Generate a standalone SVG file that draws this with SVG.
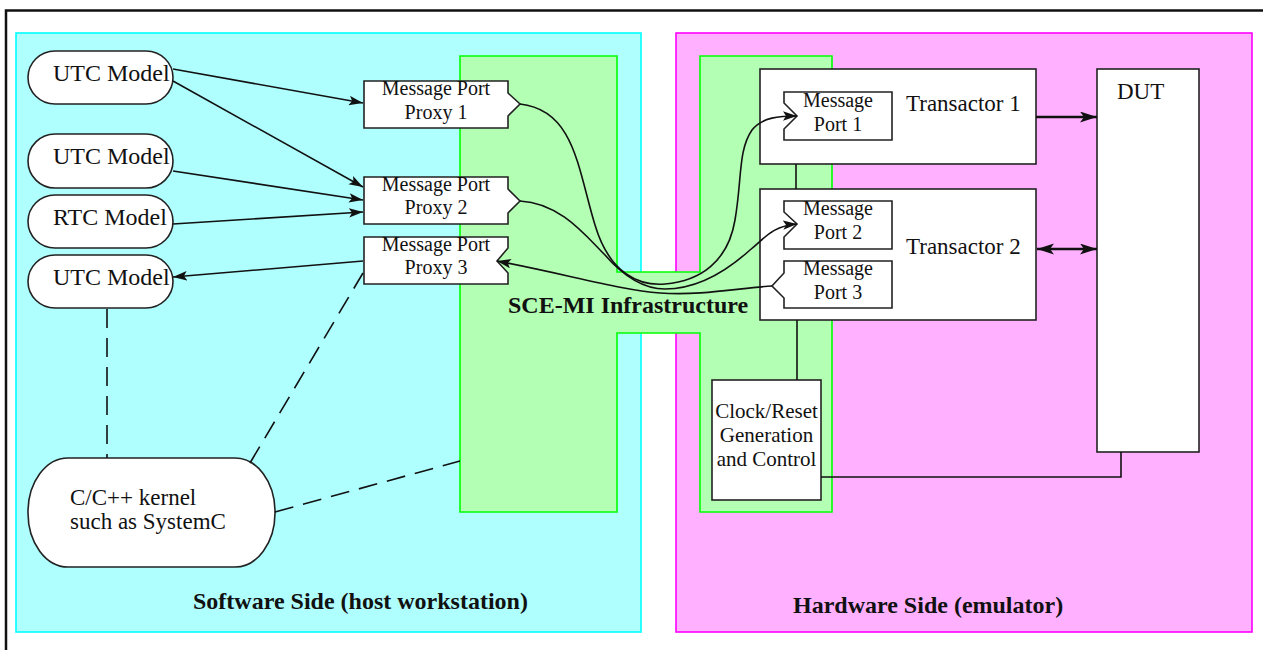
<svg xmlns="http://www.w3.org/2000/svg" width="1263" height="650" viewBox="0 0 1263 650">
<style>
.t{font-family:"Liberation Serif","Times New Roman",serif;fill:#111}
.m{font-size:20px;text-anchor:middle}
.b{font-size:24px;font-weight:bold}
.box{fill:#fff;stroke:#222;stroke-width:1.6}
.ln{fill:none;stroke:#111;stroke-width:1.6}
.dash{fill:none;stroke:#111;stroke-width:1.6;stroke-dasharray:19 10}
</style>
<defs>
<marker id="a" markerUnits="userSpaceOnUse" markerWidth="15" markerHeight="10" refX="14" refY="4.75" orient="auto-start-reverse"><path d="M0,0 L14,4.75 L0,9.5 L3,4.75 z" fill="#111"/></marker>
<marker id="aT" markerUnits="userSpaceOnUse" markerWidth="18" markerHeight="12" refX="17" refY="5.5" orient="auto-start-reverse"><path d="M0,0 L17,5.5 L0,11 L4,5.5 z" fill="#111"/></marker>
</defs>
<rect x="6" y="10.5" width="1300" height="700" fill="#fff" stroke="#111" stroke-width="2.5"/>
<g id="software-side">
<rect x="16" y="33" width="625" height="599" fill="#b0ffff" stroke="#00ffff" stroke-width="1.6"/>
<text class="t b" x="193" y="609">Software Side (host workstation)</text>
</g>
<g id="hardware-side">
<rect x="676" y="33" width="576" height="599" fill="#ffb0ff" stroke="#ff00ff" stroke-width="1.6"/>
<text class="t b" x="793" y="613">Hardware Side (emulator)</text>
</g>
<g id="sce-mi">
<polygon points="460,56 617,56 617,272 700,272 700,56 832,56 832,512 700,512 700,333 617,333 617,512 460,512" fill="#b3ffb3" stroke="#00ff00" stroke-width="1.6"/>
<text class="t b" x="508" y="313">SCE-MI Infrastructure</text>
</g>
<g id="utc1"><rect class="box" x="28" y="51" width="145" height="53" rx="27"/><text class="t" x="53" y="81" font-size="24">UTC Model</text></g>
<g id="utc2"><rect class="box" x="28" y="134" width="145" height="54" rx="27"/><text class="t" x="53" y="164" font-size="24">UTC Model</text></g>
<g id="rtc"><rect class="box" x="28" y="195" width="145" height="53" rx="27"/><text class="t" x="53" y="225" font-size="24">RTC Model</text></g>
<g id="utc3"><rect class="box" x="28" y="255" width="145" height="53" rx="27"/><text class="t" x="53" y="285" font-size="24">UTC Model</text></g>
<g id="kernel"><rect class="box" x="28" y="458" width="247" height="109" rx="40" ry="54"/><text class="t" font-size="23"><tspan x="70" y="505">C/C++ kernel</tspan><tspan x="70" y="529">such as SystemC</tspan></text></g>
<g id="proxy1"><polygon class="box" points="364,81 508,81 508,93 520,104 508,116 508,128 364,128"/><text class="t m"><tspan x="436" y="95">Message Port</tspan><tspan x="436" y="119">Proxy 1</tspan></text></g>
<g id="proxy2"><polygon class="box" points="364,177 508,177 508,189 520,201 508,213 508,224 364,224"/><text class="t m"><tspan x="436" y="191">Message Port</tspan><tspan x="436" y="214">Proxy 2</tspan></text></g>
<g id="proxy3"><polygon class="box" points="364,237 508,237 508,248 497,261 508,273 508,284 364,284"/><text class="t m"><tspan x="436" y="251">Message Port</tspan><tspan x="436" y="274">Proxy 3</tspan></text></g>
<g id="transactor1"><rect class="box" x="760" y="69" width="276" height="95"/><text class="t" x="906" y="111" font-size="23">Transactor 1</text></g>
<g id="transactor2"><rect class="box" x="760" y="189" width="276" height="131"/><text class="t" x="906" y="254" font-size="23">Transactor 2</text></g>
<g id="port1"><polygon class="box" points="784,92 892,92 892,140 784,140 784,129 797,116 784,103"/><text class="t m"><tspan x="838" y="107">Message</tspan><tspan x="838" y="131">Port 1</tspan></text></g>
<g id="port2"><polygon class="box" points="784,201 892,201 892,249 784,249 784,237 797,224 784,212"/><text class="t m"><tspan x="838" y="215">Message</tspan><tspan x="838" y="239">Port 2</tspan></text></g>
<g id="port3"><polygon class="box" points="784,261 892,261 892,308 784,308 784,298 772,286 784,273"/><text class="t m"><tspan x="838" y="275">Message</tspan><tspan x="838" y="299">Port 3</tspan></text></g>
<g id="dut"><rect class="box" x="1097" y="69" width="102" height="383"/><text class="t" x="1117" y="99" font-size="23">DUT</text></g>
<g id="clock"><rect class="box" x="712" y="380" width="109" height="120"/><text class="t" font-size="21" text-anchor="middle"><tspan x="766.5" y="418">Clock/Reset</tspan><tspan x="766.5" y="442">Generation</tspan><tspan x="766.5" y="466">and Control</tspan></text></g>
<g id="connectors">
<line class="ln" x1="173" y1="69" x2="363" y2="103" marker-end="url(#a)"/>
<line class="ln" x1="173" y1="81" x2="363" y2="187" marker-end="url(#a)"/>
<line class="ln" x1="173" y1="171" x2="363" y2="200" marker-end="url(#a)"/>
<line class="ln" x1="173" y1="224" x2="363" y2="212" marker-end="url(#a)"/>
<line class="ln" x1="363" y1="261" x2="173" y2="277" marker-end="url(#a)"/>
<path class="dash" d="M107,309 V458"/>
<path class="dash" d="M250,463 L363,273"/>
<path class="dash" d="M275,512 L460,461"/>
<path class="ln" d="M520,104 C575,110 578,170 595,225 C610,275 640,286 665,284 C700,281 728,262 735,220 C742,180 738,150 752,130 C762,117 780,116 797,116" marker-end="url(#a)"/>
<path class="ln" d="M520,201 C560,203 585,235 605,255 C625,278 645,289 665,289 C700,289 730,268 750,250 C765,238 772,226 797,224" marker-end="url(#a)"/>
<path class="ln" d="M772,286 C740,288 700,296 660,293 C620,290 570,275 497,261" marker-end="url(#a)"/>
<path class="ln" d="M796,164 V189"/>
<path class="ln" d="M797,320 V380"/>
<path class="ln" d="M821,477 H1121 V452"/>
<line x1="1036" y1="117" x2="1097" y2="117" stroke="#111" stroke-width="2.6" marker-end="url(#aT)"/>
<line x1="1037" y1="249" x2="1097" y2="249" stroke="#111" stroke-width="2.6" marker-start="url(#aT)" marker-end="url(#aT)"/>
</g>
</svg>
